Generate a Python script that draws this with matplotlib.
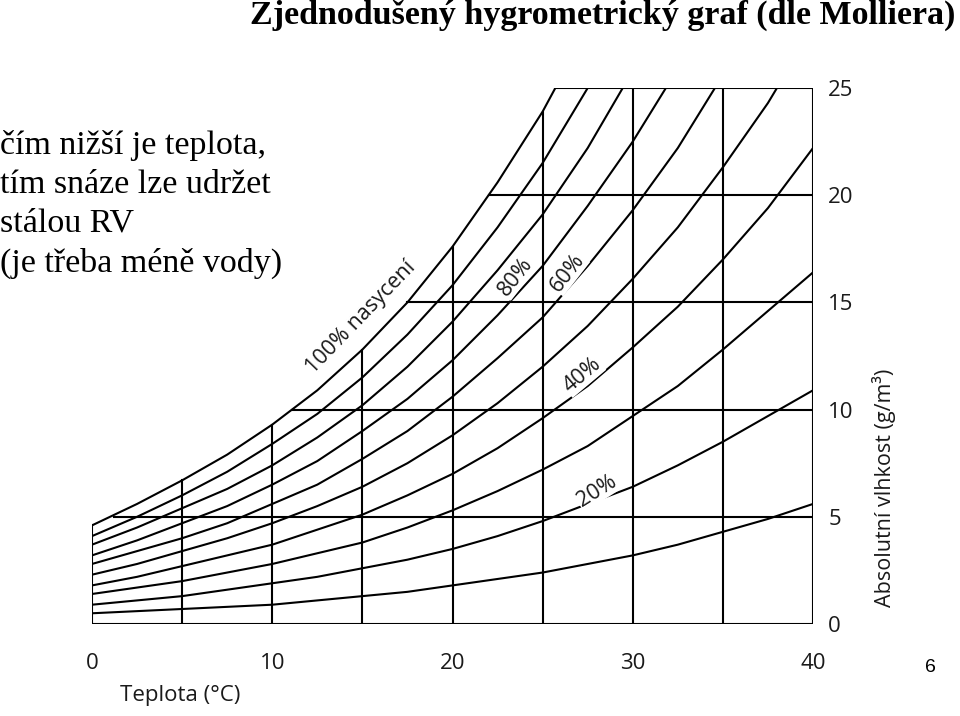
import matplotlib
matplotlib.use('Agg')
import matplotlib.pyplot as plt

# teplota (°C) a křivky relativní vlhkosti (g/m3)
temps = [0, 2.5, 5, 7.5, 10, 12.5, 15, 17.5, 20, 22.5, 25, 27.5, 30, 32.5, 35, 37.5, 40]
rh100 = [4.6, 5.6, 6.7, 7.9, 9.3, 10.9, 12.8, 15.0, 17.6, 20.6, 23.9, 27.8]
rh90 = [4.1, 5.0, 6.0, 7.1, 8.4, 9.8, 11.5, 13.5, 15.8, 18.5, 21.5, 25.0, 29.0]
rh80 = [3.7, 4.5, 5.4, 6.3, 7.4, 8.7, 10.2, 12.0, 14.1, 16.5, 19.1, 22.2, 25.8]
rh70 = [3.2, 3.9, 4.7, 5.5, 6.5, 7.6, 9.0, 10.5, 12.3, 14.4, 16.7, 19.5, 22.5, 25.9]
rh60 = [2.8, 3.4, 4.0, 4.7, 5.6, 6.5, 7.7, 9.0, 10.6, 12.4, 14.3, 16.7, 19.3, 22.2, 25.6]
rh50 = [2.3, 2.8, 3.4, 4.0, 4.7, 5.5, 6.4, 7.5, 8.8, 10.3, 12.0, 13.9, 16.1, 18.5, 21.3, 24.3, 27.8]
rh40 = [1.8, 2.2, 2.7, 3.2, 3.7, 4.4, 5.1, 6.0, 7.0, 8.2, 9.6, 11.1, 12.9, 14.8, 17.0, 19.4, 22.2]
rh30 = [1.4, 1.7, 2.0, 2.4, 2.8, 3.3, 3.8, 4.5, 5.3, 6.2, 7.2, 8.3, 9.7, 11.1, 12.8, 14.6, 16.4]
rh20 = [0.9, 1.1, 1.3, 1.6, 1.9, 2.2, 2.6, 3.0, 3.5, 4.1, 4.8, 5.6, 6.4, 7.4, 8.5, 9.7, 10.9]
rh10 = [0.5, 0.6, 0.7, 0.8, 0.9, 1.1, 1.3, 1.5, 1.8, 2.1, 2.4, 2.8, 3.2, 3.7, 4.3, 4.9, 5.6]
curves = [rh100, rh90, rh80, rh70, rh60, rh50, rh40, rh30, rh20, rh10]

# mřížka: svislé čáry končí na křivce nasycení, vodorovné od ní začínají
grid_t = [5, 10, 15, 20, 25, 30, 35]
grid_t_top = [6.7, 9.3, 12.8, 17.6, 23.9, 25, 25]
grid_v = [5, 10, 15, 20, 25]
grid_v_start = [1.2, 11.1, 17.5, 22.0, 25.7]

labels = ['100% nasycení', '80%', '60%', '40%', '20%']
label_t = [14.9, 23.5, 26.4, 27.2, 28.0]
label_v = [14.3, 16.2, 16.4, 11.6, 6.2]
label_rot = [46, 52, 52, 40, 32]

lw = 1.5
fnt = 'Open Sans'
ink = '#1a1a1a'
fig = plt.figure(figsize=(9.6, 7.16), dpi=100)
ax = fig.add_axes([92/960, (716-624)/716, (813-92)/960, (624-88)/716])

for c in curves:
    ax.plot(temps[:len(c)], c, color='black', lw=lw)
for t, top in zip(grid_t, grid_t_top):
    ax.plot([t, t], [0, top], color='black', lw=lw)
for v, t0 in zip(grid_v, grid_v_start):
    ax.plot([t0, 40], [v, v], color='black', lw=lw)
# ramecek
ax.plot([0, 40], [0, 0], color='black', lw=lw)
ax.plot([40, 40], [0, 25], color='black', lw=lw)
ax.plot([0, 0], [0, rh100[0]], color='black', lw=lw)

for s, t, v, r in zip(labels, label_t, label_v, label_rot):
    ax.text(t, v, s, rotation=r, ha='center', va='center', fontsize=15.5,
            family=fnt, color=ink,
            bbox=dict(facecolor='white', edgecolor='none', pad=0.5))

ax.set_xlim(0, 40)
ax.set_ylim(0, 25)
for sp in ax.spines.values():
    sp.set_visible(False)
ax.set_xticks([0, 10, 20, 30, 40])
ax.set_yticks([0, 5, 10, 15, 20, 25])
ax.yaxis.tick_right()
ax.tick_params(axis='x', length=0, pad=21, labelsize=16, labelcolor=ink)
ax.tick_params(axis='y', length=0, pad=11, labelsize=16, labelcolor=ink)
for lab in ax.get_xticklabels() + ax.get_yticklabels():
    lab.set_family(fnt)
ax.set_xlabel('Teplota (°C)', fontsize=16, family=fnt, color=ink)
ax.xaxis.set_label_coords(0.123, -0.114)
ax.yaxis.set_label_position('right')
ax.set_ylabel('Absolutní vlhkost (g/m³)', fontsize=15.5, family=fnt, color=ink)
ax.yaxis.set_label_coords(1.082, 0.254)

fig.text(955/960, 1 - 15/716, 'Zjednodušený hygrometrický graf (dle Molliera)',
         ha='right', va='center', fontsize=24.5, fontweight='bold', family='Liberation Serif')
fig.text(0.0, 1 - 130/716, 'čím nižší je teplota,\ntím snáze lze udržet\nstálou RV\n(je třeba méně vody)',
         ha='left', va='top', fontsize=24.5, family='Liberation Serif', linespacing=1.36)
fig.text(930/960, 1 - 668/716, '6', ha='center', va='center', fontsize=14, family='Liberation Sans')

fig.savefig('out.png', dpi=100)
